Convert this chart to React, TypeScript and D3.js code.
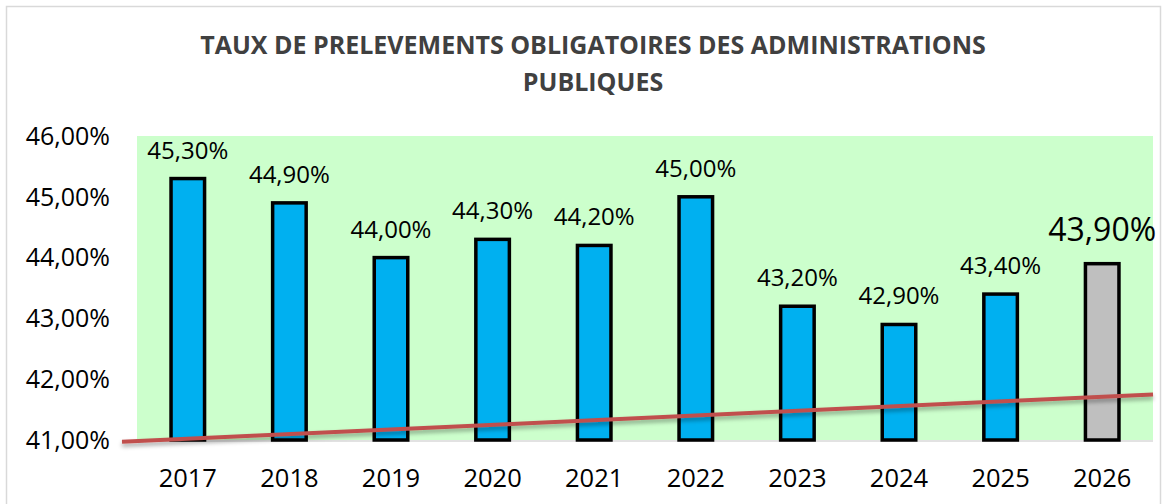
import React from "react";
import * as d3 from "d3";

const years = ["2017", "2018", "2019", "2020", "2021", "2022", "2023", "2024", "2025", "2026"];
const rates = [45.3, 44.9, 44.0, 44.3, 44.2, 45.0, 43.2, 42.9, 43.4, 43.9];
const yTicks = [41, 42, 43, 44, 45, 46];
const trendValues = [40.97, 41.75];
const titleLines = ["TAUX DE PRELEVEMENTS OBLIGATOIRES DES ADMINISTRATIONS", "PUBLIQUES"];

const W = 1162;
const H = 504;
const FONT = "'Open Sans', 'Liberation Sans', sans-serif";
const fmt = (v: number) => v.toFixed(2).replace(".", ",") + "%";

export default function App() {
  const plot = { left: 137, right: 1153, top: 136, bottom: 440 };
  const x = d3.scaleBand<string>().domain(years).range([plot.left, plot.right]).paddingInner(0.67).paddingOuter(0.335);
  const y = d3.scaleLinear().domain([41, 46]).range([plot.bottom, plot.top]);
  const tx = d3.scaleLinear().domain([0, 1]).range([122, plot.right]);
  const trendLine = d3.line<number>().x((_, i) => tx(i)).y((d) => y(d));
  const last = years.length - 1;

  return (
    <svg width={W} height={H} style={{ position: "absolute", left: 0, top: 0, background: "#fff" }}>
      <defs>
        <filter id="shadow" x="-5%" y="-200%" width="110%" height="500%">
          <feDropShadow dx="0" dy="3" stdDeviation="2" floodColor="#000" floodOpacity="0.35" />
        </filter>
      </defs>
      <rect x={6.5} y={6.5} width={W - 8} height={H} fill="#fff" stroke="#d9d9d9" strokeWidth={1.5} />
      {titleLines.map((t, i) => (
        <text key={i} x={593} y={54 + i * 37} textAnchor="middle" fontFamily={FONT} fontWeight={700} fontSize={25} fill="#404040">
          {t}
        </text>
      ))}
      <rect x={plot.left} y={plot.top} width={plot.right - plot.left} height={plot.bottom - plot.top} fill="#ccffcc" />
      <line x1={plot.left} x2={plot.right} y1={plot.bottom + 1} y2={plot.bottom + 1} stroke="#d9d9d9" strokeWidth={1.5} />
      {yTicks.map((t) => (
        <text key={t} x={110} y={y(t)} dy="0.35em" textAnchor="end" fontFamily={FONT} fontSize={25} fill="#000">
          {fmt(t)}
        </text>
      ))}
      {years.map((yr, i) => (
        <g key={yr}>
          <rect
            x={x(yr)!}
            y={y(rates[i])}
            width={x.bandwidth()}
            height={y(41) - y(rates[i])}
            fill={i === last ? "#bfbfbf" : "#00b0f0"}
            stroke="#000"
            strokeWidth={3.5}
          />
          <text
            x={x(yr)! + x.bandwidth() / 2}
            y={y(rates[i]) - (i === last ? 23 : 20)}
            textAnchor="middle"
            fontFamily={FONT}
            fontSize={i === last ? 32 : 24}
            fill="#000"
          >
            {fmt(rates[i])}
          </text>
          <text x={x(yr)! + x.bandwidth() / 2} y={487} textAnchor="middle" fontFamily={FONT} fontSize={25.5} fill="#000">
            {yr}
          </text>
        </g>
      ))}
      <path d={trendLine(trendValues)!} stroke="#c0504d" strokeWidth={4} fill="none" filter="url(#shadow)" />
    </svg>
  );
}
